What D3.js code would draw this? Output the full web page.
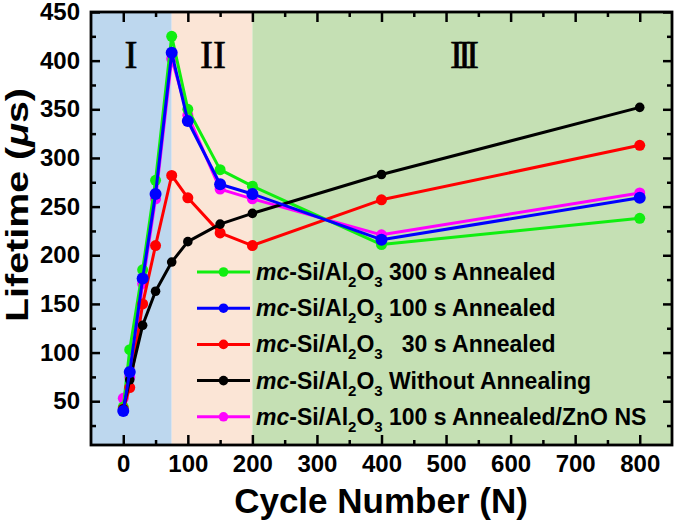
<!DOCTYPE html>
<html>
<head>
<meta charset="utf-8">
<script src="https://cdn.jsdelivr.net/npm/d3@7"></script>
<style>
  body { margin: 0; background: #fff; }
  svg { display: block; font-family: Arial, "Liberation Sans", sans-serif; }
</style>
</head>
<body>
<div id="chart"></div>
<script>
// cycle numbers (x) shared by every series
const cycles = [0, 10, 30, 50, 75, 100, 150, 200, 400, 800];

// lifetime values (µs)
const annealed300 = [44, 103, 185, 277, 425, 350, 288, 271, 211, 238];
const annealed100 = [40, 80, 176, 263, 408, 338, 273, 263, 216, 259];
const annealed30 = [42, 64, 150, 210, 282, 259, 223, 210, 257, 313];
const withoutAnnealing = [42, 72, 128, 163, 193, 214, 232, 243, 283, 352];
const annealed100ZnO = [53, 75, 171, 258, 402, 344, 268, 258, 221, 264];

const xTicks = [0, 100, 200, 300, 400, 500, 600, 700, 800];
const yTicks = [50, 100, 150, 200, 250, 300, 350, 400, 450];

// regions I, II, III
const regions = [
  { label: "I", from: -50, to: 75, color: "#bdd7ee" },
  { label: "II", from: 75, to: 200, color: "#fbe5d6" },
  { label: "III", from: 200, to: 850, color: "#c5e0b4" }
];

const width = 675, height = 522;
const margin = { top: 12, right: 3, bottom: 77, left: 91 };
const iw = width - margin.left - margin.right;
const ih = height - margin.top - margin.bottom;

const x = d3.scaleLinear().domain([-50, 850]).range([0, iw]);
const y = d3.scaleLinear().domain([5, 450]).range([ih, 0]);

const series = [
  { name: "300 s Annealed", values: annealed300, color: "#10ee10", r: 5.5 },
  { name: "100 s Annealed", values: annealed100, color: "#0000ff", r: 6 },
  { name: "  30 s Annealed", values: annealed30, color: "#ff0000", r: 5.5 },
  { name: "Without Annealing", values: withoutAnnealing, color: "#000000", r: 4.8 },
  { name: "100 s Annealed/ZnO NS", values: annealed100ZnO, color: "#ff00ff", r: 5.5 }
];
// drawing order: blue on top
const drawOrder = [4, 0, 2, 3, 1];

const svg = d3.select("#chart").append("svg")
  .attr("width", width)
  .attr("height", height);

const g = svg.append("g").attr("transform", `translate(${margin.left},${margin.top})`);

// background bands
g.selectAll("rect.band")
  .data(regions)
  .join("rect")
  .attr("class", "band")
  .attr("x", d => x(d.from))
  .attr("y", 0)
  .attr("width", d => x(d.to) - x(d.from))
  .attr("height", ih)
  .attr("fill", d => d.color);

// roman numerals
const romanPos = [{ cx: 40, sp: 0 }, { cx: 122, sp: 0 }, { cx: 371, sp: -5 }];
g.selectAll("text.roman")
  .data(regions)
  .join("text")
  .attr("class", "roman")
  .attr("x", (d, i) => romanPos[i].cx)
  .attr("y", 56)
  .attr("text-anchor", "middle")
  .style("font-family", "'Liberation Serif', 'DejaVu Serif', serif")
  .style("font-size", "39px")
  .style("stroke", "#000")
  .style("stroke-width", 0.6)
  .style("letter-spacing", (d, i) => romanPos[i].sp + "px")
  .text(d => d.label);

// axes
function styleAxis(sel) {
  sel.select(".domain").remove();
  sel.selectAll(".tick line").attr("stroke", "#000").attr("stroke-width", 2.5);
  sel.selectAll(".tick text")
    .style("font-size", "24px")
    .style("font-weight", "bold")
    .attr("fill", "#000");
}

const minorX = d3.range(50, 850, 100);
const minorY = d3.range(25, 450, 50);

g.append("g").attr("transform", `translate(0,${ih})`)
  .call(d3.axisBottom(x).tickValues(xTicks).tickSize(-10).tickSizeOuter(0).tickPadding(10))
  .call(styleAxis);
g.append("g").attr("transform", `translate(0,${ih})`)
  .call(d3.axisBottom(x).tickValues(minorX).tickSize(-5).tickFormat(""))
  .call(styleAxis);
g.append("g")
  .call(d3.axisTop(x).tickValues(xTicks).tickSize(-10).tickFormat(""))
  .call(styleAxis);
g.append("g")
  .call(d3.axisTop(x).tickValues(minorX).tickSize(-5).tickFormat(""))
  .call(styleAxis);

g.append("g")
  .call(d3.axisLeft(y).tickValues(yTicks).tickSize(-9).tickPadding(11))
  .call(styleAxis);
g.append("g")
  .call(d3.axisLeft(y).tickValues(minorY).tickSize(-5).tickFormat(""))
  .call(styleAxis);
g.append("g").attr("transform", `translate(${iw},0)`)
  .call(d3.axisRight(y).tickValues(yTicks).tickSize(-9).tickFormat(""))
  .call(styleAxis);
g.append("g").attr("transform", `translate(${iw},0)`)
  .call(d3.axisRight(y).tickValues(minorY).tickSize(-5).tickFormat(""))
  .call(styleAxis);

// lines + markers
const line = d3.line().x(d => x(d[0])).y(d => y(d[1]));
drawOrder.forEach(i => {
  const s = series[i];
  const pts = cycles.map((c, k) => [c, s.values[k]]);
  g.append("path")
    .datum(pts)
    .attr("fill", "none")
    .attr("stroke", s.color)
    .attr("stroke-width", 3)
    .attr("stroke-linejoin", "round")
    .attr("d", line);
  g.selectAll(null)
    .data(pts)
    .join("circle")
    .attr("cx", d => x(d[0]))
    .attr("cy", d => y(d[1]))
    .attr("r", s.r)
    .attr("fill", s.color);
});

// legend
const legend = g.append("g").attr("transform", `translate(${197 - margin.left},${272 - margin.top})`);
series.forEach((s, i) => {
  const row = legend.append("g").attr("transform", `translate(0,${i * 36.2})`);
  row.append("line")
    .attr("x1", 0).attr("x2", 53)
    .attr("stroke", s.color).attr("stroke-width", 3);
  row.append("circle").attr("cx", 26.5).attr("r", 4.8).attr("fill", s.color);
  const t = row.append("text")
    .attr("x", 59).attr("y", 8)
    .style("font-size", "23px")
    .style("font-weight", "bold")
    .attr("xml:space", "preserve")
    .style("white-space", "pre");
  t.append("tspan").style("font-style", "italic").text("mc");
  t.append("tspan").text("-Si/Al");
  t.append("tspan").attr("dy", 7).style("font-size", "15px").text("2");
  t.append("tspan").attr("dy", -7).text("O");
  t.append("tspan").attr("dy", 7).style("font-size", "15px").text("3");
  t.append("tspan").attr("dy", -7).text(" " + s.name);
});

// frame
g.append("rect")
  .attr("width", iw).attr("height", ih)
  .attr("fill", "none")
  .attr("stroke", "#000")
  .attr("stroke-width", 2.8);

// axis titles
svg.append("text")
  .attr("x", 381).attr("y", 513)
  .attr("text-anchor", "middle")
  .style("font-size", "35px")
  .style("font-weight", "bold")
  .text("Cycle Number (N)");

const yt = svg.append("text")
  .attr("transform", "translate(28,205) rotate(-90)")
  .attr("text-anchor", "middle")
  .style("font-size", "32px")
  .style("font-weight", "bold")
  .attr("textLength", 234)
  .attr("lengthAdjust", "spacingAndGlyphs");
yt.append("tspan").text("Lifetime (");
yt.append("tspan").style("font-style", "italic").text("\u03bc");
yt.append("tspan").text("s)");
</script>
</body>
</html>
